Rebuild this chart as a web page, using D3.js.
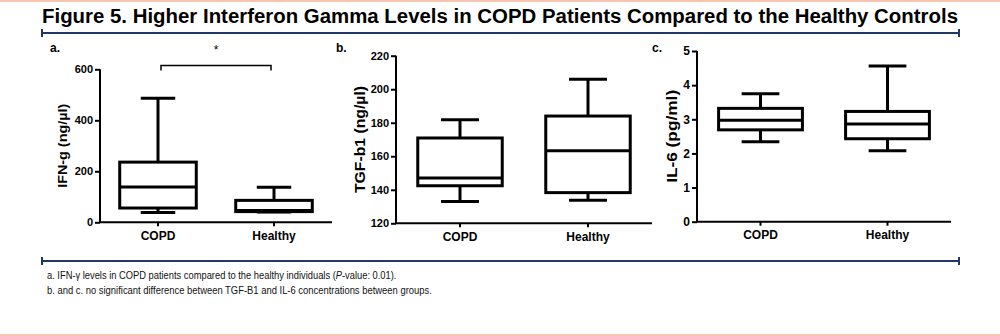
<!DOCTYPE html>
<html>
<head>
<meta charset="utf-8">
<script src="https://cdn.jsdelivr.net/npm/d3@7"></script>
<style>
  html, body { margin: 0; padding: 0; background: #fff; }
  svg { display: block; font-family: Arial, "Liberation Sans", sans-serif; }
</style>
</head>
<body>
<div id="chart"></div>
<script>
// box stats per group: [min, q1, median, q3, max]
const groups = ["COPD", "Healthy"];
const ifnStats = [[38, 56, 138, 236, 486], [40, 42, 46, 86, 137]];
const tgfStats = [[133, 142.4, 147, 170.9, 181.8], [133.7, 138.3, 163.3, 184, 206]];
const il6Stats = [[2.34, 2.69, 2.97, 3.32, 3.75], [2.08, 2.43, 2.86, 3.23, 4.56]];

const ifnTicks = [0, 200, 400, 600];
const tgfTicks = [120, 140, 160, 180, 200, 220];
const il6Ticks = [0, 1, 2, 3, 4, 5];

const titleText = "Figure 5. Higher Interferon Gamma Levels in COPD Patients Compared to the Healthy Controls";

const W = 1000, H = 336;
const NAVY = "#1f3864";
const svg = d3.select("#chart").append("svg").attr("width", W).attr("height", H);

// salmon frame lines top and bottom
svg.append("rect").attr("x", 0).attr("y", 0).attr("width", W).attr("height", 2).attr("fill", "#f6c6b1");
svg.append("rect").attr("x", 0).attr("y", H - 2).attr("width", W).attr("height", 2).attr("fill", "#f6c6b1");

svg.append("text")
  .attr("x", 42).attr("y", 23)
  .attr("textLength", 916).attr("lengthAdjust", "spacingAndGlyphs")
  .style("font-family", "'Liberation Sans Narrow', 'Arial Narrow', Arial, sans-serif")
  .style("font-weight", "bold").style("font-size", "19.5px")
  .text(titleText);

function rule(y) {
  const g = svg.append("g").attr("stroke", NAVY);
  g.append("line").attr("x1", 42).attr("x2", 959).attr("y1", y).attr("y2", y).attr("stroke-width", 2);
  g.append("line").attr("x1", 42).attr("x2", 42).attr("y1", y - 4).attr("y2", y + 4).attr("stroke-width", 2);
  g.append("line").attr("x1", 959).attr("x2", 959).attr("y1", y - 4).attr("y2", y + 4).attr("stroke-width", 2);
}
rule(33);
rule(261);

// ---------- panels ----------
const panels = [
  { tag: "a.", tagX: 50, stats: ifnStats, ticks: ifnTicks, domain: [0, 600],
    x0: 100, x1: 332, y0: 222.3, y1: 69.3, label: "IFN-g (ng/µl)", labelX: 62, labelLen: 84, labelSize: 13.5, tickSize: 11 },
  { tag: "b.", tagX: 336, stats: tgfStats, ticks: tgfTicks, domain: [120, 220],
    x0: 396, x1: 652, y0: 223.3, y1: 55.7, label: "TGF-b1 (ng/µl)", labelX: 360, labelLen: 107, labelSize: 15.5, tickSize: 11 },
  { tag: "c.", tagX: 652, stats: il6Stats, ticks: il6Ticks, domain: [0, 5],
    x0: 697, x1: 951, y0: 221.7, y1: 51, label: "IL-6 (pg/ml)", labelX: 672, labelLen: 93, labelSize: 15.5, tickSize: 12 }
];

panels.forEach(p => {
  const g = svg.append("g");
  const y = d3.scaleLinear().domain(p.domain).range([p.y0, p.y1]);
  const x = d3.scaleBand().domain(groups).range([p.x0, p.x1]);

  const yAxis = g.append("g").attr("transform", `translate(${p.x0},0)`)
    .call(d3.axisLeft(y).tickValues(p.ticks).tickSize(5).tickPadding(2).tickFormat(d3.format("d")));
  yAxis.select(".domain").attr("stroke-width", 2).attr("d", `M0,${p.y1}V${p.y0}`);
  yAxis.selectAll(".tick line").attr("stroke-width", 2);
  yAxis.selectAll("text").style("font-size", p.tickSize + "px").style("font-weight", "bold").attr("fill", "#000");

  const xAxis = g.append("g").attr("transform", `translate(0,${p.y0})`)
    .call(d3.axisBottom(x).tickSize(4).tickPadding(5));
  xAxis.select(".domain").attr("stroke-width", 2).attr("d", `M${p.x0},0H${p.x1}`);
  xAxis.selectAll(".tick line").attr("stroke-width", 2);
  xAxis.selectAll("text").style("font-size", "12px").style("font-weight", "bold").attr("fill", "#000");

  g.append("text").attr("x", p.tagX).attr("y", 52)
    .style("font-size", "12px").style("font-weight", "bold").text(p.tag);

  const ly = (p.y0 + p.y1) / 2;
  g.append("text")
    .attr("transform", `translate(${p.labelX},${ly}) rotate(-90)`)
    .attr("text-anchor", "middle").attr("dy", "0.35em")
    .attr("textLength", p.labelLen).attr("lengthAdjust", "spacingAndGlyphs")
    .style("font-size", p.labelSize + "px").style("font-weight", "bold")
    .text(p.label);

  const bw = x.bandwidth() * 0.66;
  const cw = bw * 0.45;
  const box = g.selectAll("g.box").data(groups.map((k, i) => ({ key: k, s: p.stats[i] })))
    .enter().append("g").attr("class", "box")
    .attr("fill", "none").attr("stroke", "#000").attr("stroke-width", 3);
  const cx = d => x(d.key) + x.bandwidth() / 2;
  // whiskers
  box.append("line").attr("x1", cx).attr("x2", cx).attr("y1", d => y(d.s[4])).attr("y2", d => y(d.s[3]));
  box.append("line").attr("x1", cx).attr("x2", cx).attr("y1", d => y(d.s[1])).attr("y2", d => y(d.s[0]));
  box.append("line").attr("x1", d => cx(d) - cw / 2).attr("x2", d => cx(d) + cw / 2)
    .attr("y1", d => y(d.s[4])).attr("y2", d => y(d.s[4]));
  box.append("line").attr("x1", d => cx(d) - cw / 2).attr("x2", d => cx(d) + cw / 2)
    .attr("y1", d => y(d.s[0])).attr("y2", d => y(d.s[0]));
  box.append("rect").attr("x", d => cx(d) - bw / 2).attr("width", bw)
    .attr("y", d => y(d.s[3])).attr("height", d => y(d.s[1]) - y(d.s[3]))
    .attr("fill", "#fff");
  box.append("line").attr("x1", d => cx(d) - bw / 2).attr("x2", d => cx(d) + bw / 2)
    .attr("y1", d => y(d.s[2])).attr("y2", d => y(d.s[2]));

  if (p.tag === "a.") {
    // significance bracket over the two groups
    const bx0 = x("COPD") + x.bandwidth() / 2 + 3, bx1 = x("Healthy") + x.bandwidth() / 2 - 3;
    const by = 65.5;
    g.append("path").attr("d", `M${bx0},${by + 5}V${by}H${bx1}V${by + 5}`)
      .attr("fill", "none").attr("stroke", "#000").attr("stroke-width", 1.5);
    g.append("text").attr("x", (bx0 + bx1) / 2).attr("y", 54).attr("text-anchor", "middle")
      .style("font-size", "12px").text("*");
  }
});

// ---------- footnotes ----------
// squeeze each line horizontally to the narrow width seen in the figure
function footnote(y, target, build) {
  const g = svg.append("g").attr("transform", `translate(47,${y})`);
  const t = g.append("text").style("font-size", "10.5px").attr("fill", "#111");
  build(t);
  const w = t.node().getComputedTextLength();
  t.attr("transform", `scale(${target / w},1)`);
}
footnote(279, 350, t => {
  t.append("tspan").text("a. IFN-γ levels in COPD patients compared to the healthy individuals (");
  t.append("tspan").style("font-style", "italic").text("P");
  t.append("tspan").text("-value: 0.01).");
});
footnote(294, 385, t => {
  t.text("b. and c. no significant difference between TGF-B1 and IL-6 concentrations between groups.");
});
</script>
</body>
</html>
